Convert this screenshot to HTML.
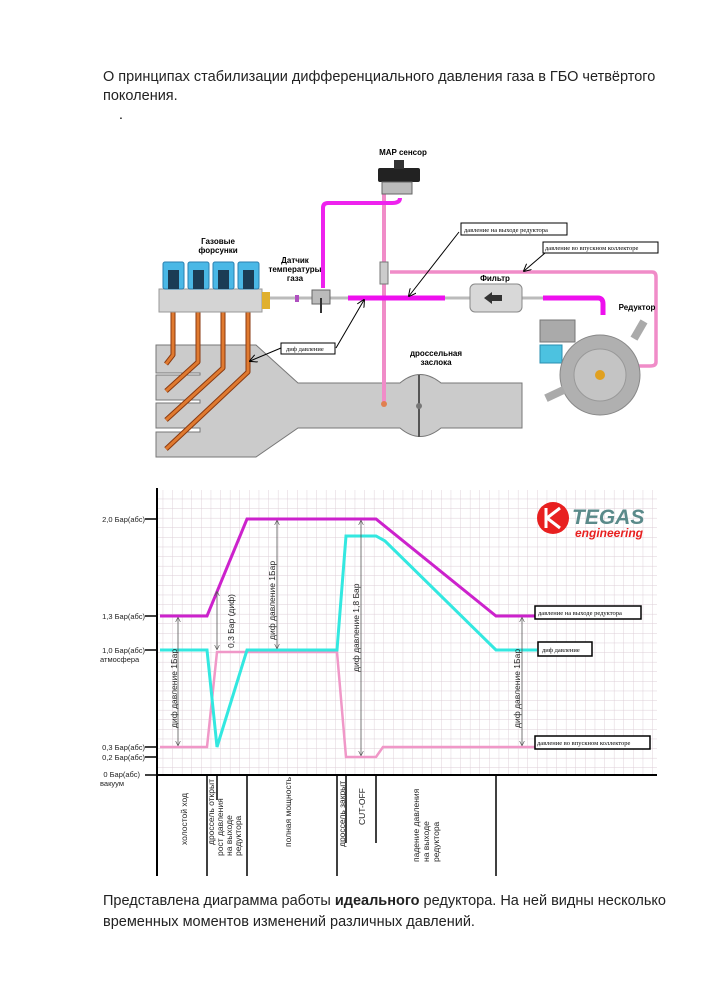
<!DOCTYPE html>
<html><head><meta charset="utf-8"><style>
html,body{margin:0;padding:0;background:#fff;}
body{width:707px;height:1000px;position:relative;overflow:hidden;font-family:"Liberation Sans","DejaVu Sans",sans-serif;}
.t{position:absolute;left:103px;font-size:14.5px;color:#222;line-height:19px;}
</style></head><body>
<div class="t" style="top:68px;width:580px;">О принципах стабилизации дифференциального давления газа в ГБО четвёртого поколения.</div>
<div style="position:absolute;left:119px;top:106px;font-size:14px;">.</div>
<div class="t" style="top:891px;width:580px;font-size:14.5px;line-height:21px;">Представлена диаграмма работы <b>идеального</b> редуктора. На ней видны несколько временных моментов изменений различных давлений.</div>

<svg width="707" height="1000" style="position:absolute;left:0;top:0" xmlns="http://www.w3.org/2000/svg" font-family="Liberation Sans, sans-serif">
<defs>
<pattern id="g" width="9.6" height="9.6" patternUnits="userSpaceOnUse"><path d="M9.6 0V9.6H0" fill="none" stroke="#dccdd6" stroke-width="0.9"/></pattern>
<marker id="ar" markerWidth="8" markerHeight="8" refX="7" refY="4" orient="auto"><path d="M0,0 L8,4 L0,8" fill="none" stroke="#000" stroke-width="1"/></marker>
<marker id="as" markerWidth="6" markerHeight="6" refX="5" refY="3" orient="auto-start-reverse"><path d="M0,0 L6,3 L0,6" fill="none" stroke="#555" stroke-width="0.8"/></marker>
</defs>

<g fill="#cbcbcb" stroke="#777" stroke-width="1">
<path d="M156,345 L256,345 L298,383 L400,383 Q420,366 441,383 L522,383 L522,428 L441,428 Q420,445 400,428 L298,428 L256,457 L156,457 L156,432 L200,432 L200,428 L156,428 L156,403 L200,403 L200,400 L156,400 L156,375 L200,375 L200,373 L156,373 Z"/>
</g>
<line x1="419" y1="375" x2="419" y2="437" stroke="#555" stroke-width="2"/>
<circle cx="419" cy="406" r="3" fill="#777"/>
<g fill="none" stroke="#8a3a10" stroke-width="5" stroke-linejoin="round"><path d="M173,312 V355 L166,364"/><path d="M198,312 V362 L166,391"/><path d="M223,312 V368 L166,420"/><path d="M248,312 V372 L166,449"/></g>
<g fill="none" stroke="#e07a30" stroke-width="3" stroke-linejoin="round"><path d="M173,312 V355 L166,364"/><path d="M198,312 V362 L166,391"/><path d="M223,312 V368 L166,420"/><path d="M248,312 V372 L166,449"/></g>
<rect x="159" y="289" width="103" height="23" fill="#d4d4d4" stroke="#999"/>
<rect x="262" y="292" width="8" height="17" fill="#e0b030"/>
<g fill="#4ab8e6" stroke="#2a7fb0"><rect x="163" y="262" width="21" height="27" rx="2"/><rect x="188" y="262" width="21" height="27" rx="2"/><rect x="213" y="262" width="21" height="27" rx="2"/><rect x="238" y="262" width="21" height="27" rx="2"/></g>
<g fill="#1b3c55"><rect x="168" y="270" width="11" height="19"/><rect x="193" y="270" width="11" height="19"/><rect x="218" y="270" width="11" height="19"/><rect x="243" y="270" width="11" height="19"/></g>
<path d="M384,194 V403" stroke="#f08cc8" stroke-width="4" fill="none"/>
<circle cx="384" cy="404" r="3" fill="#e08050"/>
<path d="M400,198 Q400,203 392,203 L328,203 Q323,203 323,208 V288" stroke="#ee22ee" stroke-width="4" fill="none"/>
<path d="M390,272 H652 Q656,272 656,277 V362 Q656,366 650,366 H628" stroke="#f08cc8" stroke-width="3.5" fill="none"/>
<line x1="270" y1="298" x2="348" y2="298" stroke="#bbb" stroke-width="3"/>
<rect x="295" y="295" width="4" height="7" fill="#b050c0"/>
<line x1="348" y1="298" x2="445" y2="298" stroke="#ee10ee" stroke-width="5"/>
<line x1="445" y1="298" x2="470" y2="298" stroke="#bbb" stroke-width="3"/>
<line x1="522" y1="298" x2="543" y2="298" stroke="#bbb" stroke-width="3"/>
<path d="M543,298 H598 Q603,298 603,304 V315" stroke="#ee10ee" stroke-width="5" fill="none"/>
<rect x="470" y="284" width="52" height="28" rx="5" fill="#d8d8d8" stroke="#888"/>
<path d="M484,298 L492,292 V295 H502 V301 H492 V304 Z" fill="#333"/>
<rect x="380" y="262" width="8" height="22" fill="#ccc" stroke="#777"/>
<rect x="312" y="290" width="18" height="14" fill="#bbb" stroke="#666"/>
<line x1="321" y1="298" x2="321" y2="313" stroke="#333" stroke-width="2"/>
<rect x="378" y="168" width="42" height="14" rx="2" fill="#222"/>
<rect x="394" y="160" width="10" height="9" fill="#333"/>
<rect x="382" y="182" width="30" height="12" fill="#bbb" stroke="#666"/>
<text x="403" y="155" font-size="8" font-weight="bold" text-anchor="middle">MAP сенсор</text>
<rect x="540" y="320" width="35" height="22" fill="#aaa" stroke="#777"/>
<rect x="540" y="345" width="22" height="18" fill="#4cc2e0" stroke="#2a8fb0"/>
<circle cx="600" cy="375" r="40" fill="#b0b0b0" stroke="#888"/>
<circle cx="600" cy="375" r="26" fill="#c4c4c4" stroke="#999"/>
<circle cx="600" cy="375" r="5" fill="#e0a020"/>
<rect x="635" y="320" width="8" height="20" fill="#aaa" transform="rotate(30 639 330)"/>
<rect x="545" y="390" width="20" height="8" fill="#aaa" transform="rotate(-25 555 394)"/>
<g font-size="8" font-weight="bold" text-anchor="middle">
<text x="218" y="244">Газовые</text><text x="218" y="253">форсунки</text>
<text x="295" y="263">Датчик</text><text x="295" y="272">температуры</text><text x="295" y="281">газа</text>
<text x="495" y="281">Фильтр</text>
<text x="637" y="310">Редуктор</text>
<text x="436" y="356">дроссельная</text><text x="436" y="365">заслока</text>
</g>
<g font-size="6.5" font-family="Liberation Serif, serif">
<rect x="461" y="223" width="106" height="12" fill="#fff" stroke="#000"/><text x="464" y="232">давление на выходе редуктора</text>
<rect x="543" y="242" width="115" height="11" fill="#fff" stroke="#000"/><text x="545" y="250">давление во впускном коллекторе</text>
<rect x="281" y="343" width="54" height="11" fill="#fff" stroke="#000"/><text x="286" y="351">диф давление</text>
</g>
<g stroke="#000" stroke-width="1" marker-end="url(#ar)"><line x1="459" y1="232" x2="409" y2="296"/><line x1="545" y1="253" x2="524" y2="271"/><line x1="336" y1="348" x2="364" y2="300"/><line x1="281" y1="348" x2="250" y2="361"/></g>

<rect x="157" y="490" width="500" height="285" fill="url(#g)"/>
<line x1="157" y1="488" x2="157" y2="876" stroke="#000" stroke-width="2"/>
<line x1="157" y1="775" x2="657" y2="775" stroke="#000" stroke-width="2"/>
<g stroke="#000" stroke-width="1.5"><line x1="207" y1="775" x2="207" y2="876"/><line x1="247" y1="775" x2="247" y2="876"/><line x1="337" y1="775" x2="337" y2="876"/><line x1="496" y1="775" x2="496" y2="876"/><line x1="376" y1="775" x2="376" y2="843"/><line x1="217" y1="775" x2="217" y2="800"/><line x1="346" y1="775" x2="346" y2="843"/></g>
<g stroke="#000" stroke-width="1.5"><line x1="145" y1="519" x2="157" y2="519"/><line x1="145" y1="616" x2="157" y2="616"/><line x1="145" y1="650" x2="157" y2="650"/><line x1="145" y1="747" x2="157" y2="747"/><line x1="145" y1="757" x2="157" y2="757"/><line x1="145" y1="775" x2="157" y2="775"/></g>
<g font-size="7.5" fill="#222" text-anchor="end">
<text x="145" y="522">2,0 Бар(абс)</text><text x="145" y="619">1,3 Бар(абс)</text><text x="145" y="653">1,0 Бар(абс)</text><text x="145" y="750">0,3 Бар(абс)</text><text x="145" y="760">0,2 Бар(абс)</text><text x="140" y="777">0 Бар(абс)</text>
</g>
<g font-size="7.5" fill="#222"><text x="100" y="662">атмосфера</text><text x="100" y="786">вакуум</text></g>
<polyline points="160,616 207,616 247,519 376,519 496,616 537,616" fill="none" stroke="#cc22cc" stroke-width="3"/>
<polyline points="160,747 207,747 217,652 337,652 346,757 376,757 383,747 537,747" fill="none" stroke="#f098c8" stroke-width="2.5"/>
<polyline points="160,650 207,650 217,747 247,650 337,650 346,536 376,536 385,541 496,650 537,650" fill="none" stroke="#33e8e0" stroke-width="3"/>
<g stroke="#555" stroke-width="0.8" marker-start="url(#as)" marker-end="url(#as)"><line x1="178" y1="618" x2="178" y2="745"/><line x1="217" y1="592" x2="217" y2="649"/><line x1="277" y1="521" x2="277" y2="648"/><line x1="361" y1="521" x2="361" y2="755"/><line x1="522" y1="618" x2="522" y2="745"/></g>
<g font-size="8.5" fill="#222">
<text transform="translate(177,728) rotate(-90)">диф давление 1Бар</text>
<text transform="translate(234,648) rotate(-90)">0,3 Бар (диф)</text>
<text transform="translate(275,640) rotate(-90)">диф давление 1Бар</text>
<text transform="translate(359,672) rotate(-90)">диф давление 1,8 Бар</text>
<text transform="translate(520,728) rotate(-90)">диф давление 1Бар</text>
</g>
<g font-size="6.5" font-family="Liberation Serif, serif">
<rect x="535" y="606" width="106" height="13" fill="#fff" stroke="#000" stroke-width="1.5"/><text x="538" y="615">давление на выходе редуктора</text>
<rect x="538" y="642" width="54" height="14" fill="#fff" stroke="#000" stroke-width="1.5"/><text x="542" y="652">диф давление</text>
<rect x="535" y="736" width="115" height="13" fill="#fff" stroke="#000" stroke-width="1.5"/><text x="537" y="745">давление во впускном коллекторе</text>
</g>
<circle cx="553" cy="518" r="16" fill="#e82020"/>
<path d="M546,508 V528 M547,518 L560,508 M547,518 L560,528" stroke="#fff" stroke-width="3" fill="none"/>
<text x="572" y="524" font-size="21" font-weight="bold" font-style="italic" fill="#5a8a8a">TEGAS</text>
<text x="575" y="537" font-size="12" font-weight="bold" font-style="italic" fill="#e82020">engineering</text>
<g font-size="8.5" fill="#222">
<text transform="translate(187,845) rotate(-90)">холостой ход</text>
<text transform="translate(214,845) rotate(-90)">дроссель открыт</text>
<text transform="translate(223,856) rotate(-90)">рост давления</text>
<text transform="translate(232,856) rotate(-90)">на выходе</text>
<text transform="translate(241,856) rotate(-90)">редуктора</text>
<text transform="translate(291,847) rotate(-90)">полная мощность</text>
<text transform="translate(345,847) rotate(-90)">дроссель закрыт</text>
<text transform="translate(365,825) rotate(-90)">CUT-OFF</text>
<text transform="translate(419,862) rotate(-90)">падение давления</text>
<text transform="translate(429,862) rotate(-90)">на выходе</text>
<text transform="translate(439,862) rotate(-90)">редуктора</text>
</g>
</svg>
</body></html>
